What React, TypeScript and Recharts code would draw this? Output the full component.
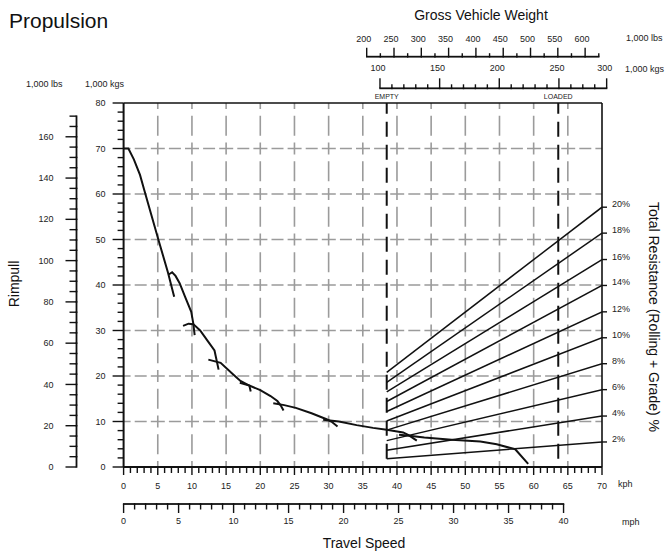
import React from "react"
import {
  ComposedChart,
  Line,
  XAxis,
  YAxis,
  CartesianGrid,
  ReferenceLine,
} from "recharts"

// ---- layout ----
const W = 665
const H = 553
const TOP_FRAME_H = 14.7
const GVW_KG_H = 31.6
const GVW_LB_H = 56.7
const KG_AXIS_W = 47.1
const LB_AXIS_W = 76.5
const PCT_AXIS_W = 63
const KPH_AXIS_H = 37
const MPH_AXIS_H = 49
const PLOT_W = W - KG_AXIS_W - LB_AXIS_W - PCT_AXIS_W
const PLOT_H = H - TOP_FRAME_H - GVW_KG_H - GVW_LB_H - KPH_AXIS_H - MPH_AXIS_H

const F = "'Liberation Sans', Arial, Helvetica, sans-serif"
const INK = "#111"
const GRID = "#9b9b9b"

// ---- axes ----
const KPH_MAX = 70
const MPH_MAX = KPH_MAX / 1.609344
const KG_MAX = 80
const LB_MAX = KG_MAX * 2.20462
const LB_TOP = 170

const KPH_TICKS = Array.from({ length: 71 }, (_, i) => i)
const MPH_TICKS = Array.from({ length: 41 }, (_, i) => i)
const KG_TICKS = Array.from({ length: 41 }, (_, i) => i * 2)
const LB_TICKS = Array.from({ length: 35 }, (_, i) => i * 5)
const H_GRID = [10, 20, 30, 40, 50, 60, 70]
const V_GRID = [5, 10, 15, 20, 25, 30, 35, 40, 45, 50, 55, 60, 65]

// gross vehicle weight rulers (top)
const GVW_LB_DOMAIN = [-245.2, 630.9]
const GVW_LB_TICKS = Array.from({ length: 18 }, (_, i) => 200 + i * 25)
const GVW_LB_END = 625
const GVW_KG_DOMAIN = [-114.9, 286.1]
const GVW_KG_TICKS = Array.from({ length: 20 }, (_, i) => 100 + i * 10)
const GVW_KG_END = 290
const GVW_KG_LABELS: Record<number, string> = {
  100: "100",
  150: "150",
  200: "200",
  250: "250",
  290: "300",
}

// empty / loaded markers (kph)
const EMPTY_KPH = 38.5
const LOADED_KPH = 63.6
const MARKER_BASE = 1.8

// total resistance lines: value at EMPTY speed and at 70 kph
const GRADES = [2, 4, 6, 8, 10, 12, 14, 16, 18, 20]
const RES_SPEEDS = [38.5, 70]
const RES_START = [1.8, 3.7, 5.8, 8.1, 10.1, 12.2, 14.4, 16.5, 18.6, 20.8]
const RES_END = [5.5, 11.2, 17.0, 22.7, 28.4, 34.1, 39.9, 45.6, 51.4, 57.1]

// rimpull curves per gear [kph, 1000 kg]
const GEAR_1 = [[0, 70], [0.7, 70], [1.5, 67.6], [2.4, 64.2], [3.0, 61.0], [4.0, 55.7], [5.2, 49.4], [6.5, 42.7], [7.4, 37.4]]
const GEAR_2 = [[6.6, 42.3], [7.1, 42.8], [7.6, 42.0], [8.2, 40.4], [9.0, 37.4], [9.9, 34.1], [10.2, 31.5], [10.4, 29.0]]
const GEAR_3 = [[8.7, 31.0], [9.5, 31.5], [10.2, 31.4], [11.2, 30.0], [12.4, 27.5], [13.3, 25.6], [13.9, 21.4]]
const GEAR_4 = [[12.4, 23.6], [14.2, 22.9], [16.0, 20.4], [17.1, 18.9], [18.4, 17.9], [18.6, 16.6]]
const GEAR_5 = [[17.0, 18.5], [18.4, 17.9], [20.0, 16.9], [21.5, 15.6], [22.5, 14.5], [23.0, 13.5], [23.4, 12.4]]
const GEAR_6 = [[21.9, 14.0], [23.5, 13.6], [25.2, 13.0], [27.5, 11.8], [29.7, 10.5], [30.4, 10.0], [31.3, 8.9]]
const GEAR_7 = [[29.2, 10.4], [31.5, 10.0], [34.1, 9.2], [36.5, 8.6], [38.5, 8.2], [40.9, 7.6], [41.7, 7.0], [42.9, 5.8]]
const GEAR_8 = [[40.3, 7.1], [41.5, 6.9], [44, 6.5], [48, 6.0], [52.2, 5.6], [54.6, 5.0], [57.3, 3.9], [59.2, 0.7]]
const GEARS = [GEAR_1, GEAR_2, GEAR_3, GEAR_4, GEAR_5, GEAR_6, GEAR_7, GEAR_8]

const toPts = (arr: number[][]) => arr.map(([x, y]) => ({ x, y }))

const label9 = { fontSize: 9, fontFamily: F, fill: "#222" }

// ---- custom ticks ----
const KphTick = ({ x, y, payload }: any) => {
  const v = payload.value
  const major = v % 5 === 0
  return (
    <g>
      <line x1={x} y1={y} x2={x} y2={y + (major ? 8 : 6)} stroke={INK} strokeWidth={1.4} />
      {major && (
        <text x={x} y={y + 22} textAnchor="middle" {...label9}>
          {v}
        </text>
      )}
    </g>
  )
}

const MphTick = ({ x, y, payload }: any) => {
  const v = payload.value
  const major = v % 5 === 0
  const step = PLOT_W / MPH_MAX
  return (
    <g>
      {v < 40 && <line x1={x - 0.7} y1={y} x2={x + step + 0.7} y2={y} stroke={INK} strokeWidth={1.8} />}
      <line x1={x} y1={y} x2={x} y2={y + (major ? 9 : 5.5)} stroke={INK} strokeWidth={1.4} />
      {major && (
        <text x={x} y={y + 20} textAnchor="middle" {...label9}>
          {v}
        </text>
      )}
    </g>
  )
}

const KgTick = ({ x, y, payload }: any) => {
  const v = payload.value
  const major = v % 10 === 0
  return (
    <g>
      <line x1={x} y1={y} x2={x - (major ? 11 : 6)} y2={y} stroke={INK} strokeWidth={1.4} />
      {major && (
        <text x={x - 18} y={y} dy="0.35em" textAnchor="end" {...label9}>
          {v}
        </text>
      )}
    </g>
  )
}

const LbTick = ({ x, y, payload }: any) => {
  const v = payload.value
  const major = v % 20 === 0
  const step = (5 / LB_MAX) * PLOT_H
  return (
    <g>
      {v < LB_TOP && <line x1={x} y1={y + 0.7} x2={x} y2={y - step - 0.7} stroke={INK} strokeWidth={1.8} />}
      <line x1={x} y1={y} x2={x - (major ? 11 : 7)} y2={y} stroke={INK} strokeWidth={1.4} />
      {major && (
        <text x={x - 23} y={y} dy="0.35em" textAnchor="end" {...label9}>
          {v}
        </text>
      )}
    </g>
  )
}

const GvwKgTick = ({ x, y, payload }: any) => {
  const v = payload.value
  const lab = GVW_KG_LABELS[v]
  const step = (10 / (GVW_KG_DOMAIN[1] - GVW_KG_DOMAIN[0])) * PLOT_W
  return (
    <g>
      {v < GVW_KG_END && <line x1={x - 0.7} y1={y} x2={x + step + 0.7} y2={y} stroke={INK} strokeWidth={1.8} />}
      <line x1={x} y1={y} x2={x} y2={y - (lab ? 10 : 4)} stroke={INK} strokeWidth={1.4} />
      {lab && (
        <text x={x - 2} y={y - 17} textAnchor="middle" {...label9}>
          {lab}
        </text>
      )}
    </g>
  )
}

const GvwLbTick = ({ x, y, payload }: any) => {
  const v = payload.value
  const major = v % 50 === 0
  const step = (25 / (GVW_LB_DOMAIN[1] - GVW_LB_DOMAIN[0])) * PLOT_W
  return (
    <g>
      {v < GVW_LB_END && <line x1={x - 0.7} y1={y} x2={x + step + 0.7} y2={y} stroke={INK} strokeWidth={1.8} />}
      <line x1={x} y1={y} x2={x} y2={y - (major ? 9 : 3.5)} stroke={INK} strokeWidth={1.4} />
      {major && (
        <text x={x - 3} y={y - 15} textAnchor="middle" {...label9}>
          {v}
        </text>
      )}
    </g>
  )
}

const PctTick = ({ x, y, payload }: any) => {
  const i = RES_END.indexOf(payload.value)
  return (
    <g>
      <line x1={x} y1={y} x2={x + 5} y2={y} stroke={INK} strokeWidth={1.4} />
      <text x={x + 10} y={y} {...label9}>
        {GRADES[i]}%
      </text>
    </g>
  )
}

export default function App() {
  return (
    <div style={{ position: "absolute", left: 0, top: 0, width: W, height: H, background: "#fff" }}>
      <ComposedChart width={W} height={H} margin={{ top: 0, right: 0, bottom: 0, left: 0 }}>
        <CartesianGrid
          xAxisId="kph"
          yAxisId="kg"
          vertical={false}
          horizontalValues={H_GRID}
          stroke={GRID}
          strokeWidth={1.6}
          strokeDasharray="7 4.1 12 4.1 7 0"
        />
        <CartesianGrid
          xAxisId="kph"
          yAxisId="kg"
          horizontal={false}
          verticalValues={V_GRID}
          stroke={GRID}
          strokeWidth={1.6}
          strokeDasharray="6 6.75 20 6.75 6 0"
        />

        <XAxis
          xAxisId="kph"
          dataKey="x"
          type="number"
          orientation="bottom"
          domain={[0, KPH_MAX]}
          allowDataOverflow
          ticks={KPH_TICKS}
          interval={0}
          height={KPH_AXIS_H}
          tickSize={0}
          tickMargin={0}
          tickLine={false}
          axisLine={{ stroke: INK, strokeWidth: 2 }}
          tick={(p: any) => <KphTick {...p} />}
        />
        <XAxis
          xAxisId="mph"
          dataKey="x"
          type="number"
          orientation="bottom"
          domain={[0, MPH_MAX]}
          allowDataOverflow
          ticks={MPH_TICKS}
          interval={0}
          height={MPH_AXIS_H}
          tickSize={0}
          tickMargin={0}
          tickLine={false}
          axisLine={false}
          tick={(p: any) => <MphTick {...p} />}
        />
        <XAxis
          xAxisId="frame"
          dataKey="x"
          type="number"
          orientation="top"
          domain={[0, KPH_MAX]}
          height={TOP_FRAME_H}
          tick={false}
          tickLine={false}
          axisLine={{ stroke: INK, strokeWidth: 1.6 }}
        />
        <XAxis
          xAxisId="gvwKg"
          dataKey="x"
          type="number"
          orientation="top"
          domain={GVW_KG_DOMAIN}
          allowDataOverflow
          ticks={GVW_KG_TICKS}
          interval={0}
          height={GVW_KG_H}
          tickSize={0}
          tickMargin={0}
          tickLine={false}
          axisLine={false}
          tick={(p: any) => <GvwKgTick {...p} />}
        />
        <XAxis
          xAxisId="gvwLb"
          dataKey="x"
          type="number"
          orientation="top"
          domain={GVW_LB_DOMAIN}
          allowDataOverflow
          ticks={GVW_LB_TICKS}
          interval={0}
          height={GVW_LB_H}
          tickSize={0}
          tickMargin={0}
          tickLine={false}
          axisLine={false}
          tick={(p: any) => <GvwLbTick {...p} />}
        />

        <YAxis
          yAxisId="kg"
          type="number"
          orientation="left"
          domain={[0, KG_MAX]}
          allowDataOverflow
          ticks={KG_TICKS}
          interval={0}
          width={KG_AXIS_W}
          tickSize={0}
          tickMargin={0}
          tickLine={false}
          axisLine={{ stroke: INK, strokeWidth: 2 }}
          tick={(p: any) => <KgTick {...p} />}
        />
        <YAxis
          yAxisId="lb"
          type="number"
          orientation="left"
          domain={[0, LB_MAX]}
          allowDataOverflow
          ticks={LB_TICKS}
          interval={0}
          width={LB_AXIS_W}
          tickSize={0}
          tickMargin={0}
          tickLine={false}
          axisLine={false}
          tick={(p: any) => <LbTick {...p} />}
        />
        <YAxis
          yAxisId="pct"
          type="number"
          orientation="right"
          domain={[0, KG_MAX]}
          allowDataOverflow
          ticks={RES_END}
          interval={0}
          width={PCT_AXIS_W}
          tickSize={0}
          tickMargin={0}
          tickLine={false}
          axisLine={{ stroke: INK, strokeWidth: 1.6 }}
          tick={(p: any) => <PctTick {...p} />}
        />

        {GRADES.map((g, i) => (
          <Line
            key={"res" + g}
            xAxisId="kph"
            yAxisId="kg"
            data={[
              { x: RES_SPEEDS[0], y: RES_START[i] },
              { x: RES_SPEEDS[1], y: RES_END[i] },
            ]}
            dataKey="y"
            type="linear"
            stroke={INK}
            strokeWidth={1.5}
            dot={false}
            activeDot={false}
            isAnimationActive={false}
          />
        ))}

        <ReferenceLine
          xAxisId="kph"
          yAxisId="kg"
          segment={[
            { x: EMPTY_KPH, y: MARKER_BASE },
            { x: EMPTY_KPH, y: KG_MAX },
          ]}
          stroke={INK}
          strokeWidth={2}
          strokeDasharray="15 8"
          label={{ value: "EMPTY", position: "top", offset: 4, fontSize: 7, fontFamily: F, fill: "#222" }}
        />
        <ReferenceLine
          xAxisId="kph"
          yAxisId="kg"
          segment={[
            { x: LOADED_KPH, y: MARKER_BASE },
            { x: LOADED_KPH, y: KG_MAX },
          ]}
          stroke={INK}
          strokeWidth={2}
          strokeDasharray="15 8"
          label={{ value: "LOADED", position: "top", offset: 4, fontSize: 7, fontFamily: F, fill: "#222" }}
        />

        {GEARS.map((g, i) => (
          <Line
            key={"gear" + i}
            xAxisId="kph"
            yAxisId="kg"
            data={toPts(g)}
            dataKey="y"
            type="linear"
            stroke={INK}
            strokeWidth={2}
            dot={false}
            activeDot={false}
            isAnimationActive={false}
          />
        ))}
      </ComposedChart>

      <svg width={W} height={H} style={{ position: "absolute", left: 0, top: 0, pointerEvents: "none" }}>
        <text x={9} y={28} fontSize={21} fontFamily={F} fill={INK}>
          Propulsion
        </text>
        <text x={481} y={20} fontSize={14} fontFamily={F} fill={INK} textAnchor="middle">
          Gross Vehicle Weight
        </text>
        <text x={626} y={41} {...label9}>1,000 lbs</text>
        <text x={625} y={71.5} {...label9}>1,000 kgs</text>
        <text x={26} y={87} {...label9}>1,000 lbs</text>
        <text x={85} y={87} {...label9}>1,000 kgs</text>
        <text x={618} y={487} {...label9}>kph</text>
        <text x={622} y={525} {...label9}>mph</text>
        <text x={364} y={548} fontSize={14} fontFamily={F} fill={INK} textAnchor="middle">
          Travel Speed
        </text>
        <text
          x={19}
          y={284}
          fontSize={14}
          fontFamily={F}
          fill={INK}
          textAnchor="middle"
          transform="rotate(-90 19 284)"
        >
          Rimpull
        </text>
        <text
          x={648.5}
          y={317}
          fontSize={14}
          fontFamily={F}
          fill={INK}
          textAnchor="middle"
          transform="rotate(90 648.5 317)"
        >
          Total Resistance (Rolling + Grade) %
        </text>
      </svg>
    </div>
  )
}
